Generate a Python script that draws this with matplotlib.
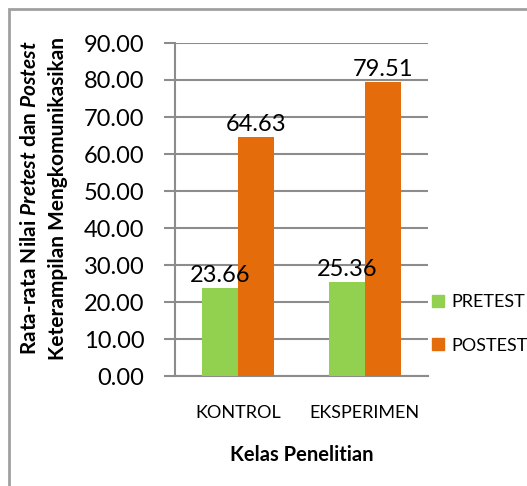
import matplotlib.pyplot as plt
from matplotlib.patches import Rectangle, Patch
import numpy as np

# dados do gráfico
kelas = ['KONTROL', 'EKSPERIMEN']
pretest = [23.66, 25.36]
postest = [64.63, 79.51]
yticks = [0, 10, 20, 30, 40, 50, 60, 70, 80, 90]

plt.rcParams['font.family'] = ['Lato', 'DejaVu Sans']
plt.rcParams['mathtext.fontset'] = 'custom'
plt.rcParams['mathtext.bfit'] = 'Lato:italic:bold'
plt.rcParams['mathtext.rm'] = 'Lato:bold'

hijau = '#92d050'
oranye = '#e46c0a'
abu = '#8c8c8c'

fig = plt.figure(figsize=(5.27, 4.86), dpi=100)
ax = fig.add_axes([175/527, 1 - 376/486, 253/527, 333/486])

x = np.arange(len(kelas))
w = 0.285
b1 = ax.bar(x - w/2, pretest, w, color=hijau, zorder=3)
b2 = ax.bar(x + w/2, postest, w, color=oranye, zorder=3)

for bars, vals in ((b1, pretest), (b2, postest)):
    for r, v in zip(bars, vals):
        ax.annotate('{:.2f}'.format(v), (r.get_x() + r.get_width()/2, v),
                    xytext=(0, 4.5), textcoords='offset points',
                    ha='center', va='baseline', fontsize=17, zorder=4)

ax.set_xlim(-0.5, 1.5)
ax.set_ylim(0, 90)
ax.set_yticks(yticks)
ax.set_yticklabels(['{:.2f}'.format(t) for t in yticks], fontsize=17)
ax.set_xticks(x)
ax.set_xticklabels(kelas, fontsize=13)
ax.tick_params(axis='x', length=0, pad=21)
ax.tick_params(axis='y', length=8, width=1.5, color=abu, pad=14)
ax.yaxis.grid(True, color=abu, linewidth=1.5, zorder=0)
for s in ['top', 'right']:
    ax.spines[s].set_visible(False)
for s in ['left', 'bottom']:
    ax.spines[s].set_color(abu)
    ax.spines[s].set_linewidth(1.5)

ax.set_xlabel('Kelas Penelitian', fontsize=14.5, fontweight='bold', labelpad=17)

fig.text(30/527, 1 - 198/486, r'Rata-rata Nilai $\mathbfit{Pretest}$ dan $\mathbfit{Postest}$',
         rotation=90, ha='center', va='center', fontsize=15, fontweight='bold')
fig.text(58/527, 1 - 198/486, 'Keterampilan Mengkomunikasikan',
         rotation=90, ha='center', va='center', fontsize=15, fontweight='bold')

handles = [Patch(color=hijau, label='PRETEST'), Patch(color=oranye, label='POSTEST')]
fig.legend(handles=handles, loc='center left', bbox_to_anchor=(432/527, 1 - 324/486),
           frameon=False, fontsize=13, handlelength=0.65, handleheight=0.65,
           handletextpad=0.4, labelspacing=1.5, borderaxespad=0, borderpad=0)

# bingkai luar
fig.patches.append(Rectangle((9/527, -0.1), 1.2, 1.1 - 9/486, transform=fig.transFigure,
                             fill=False, edgecolor='#a0a0a0', linewidth=2))

plt.savefig('out.png', dpi=100)
